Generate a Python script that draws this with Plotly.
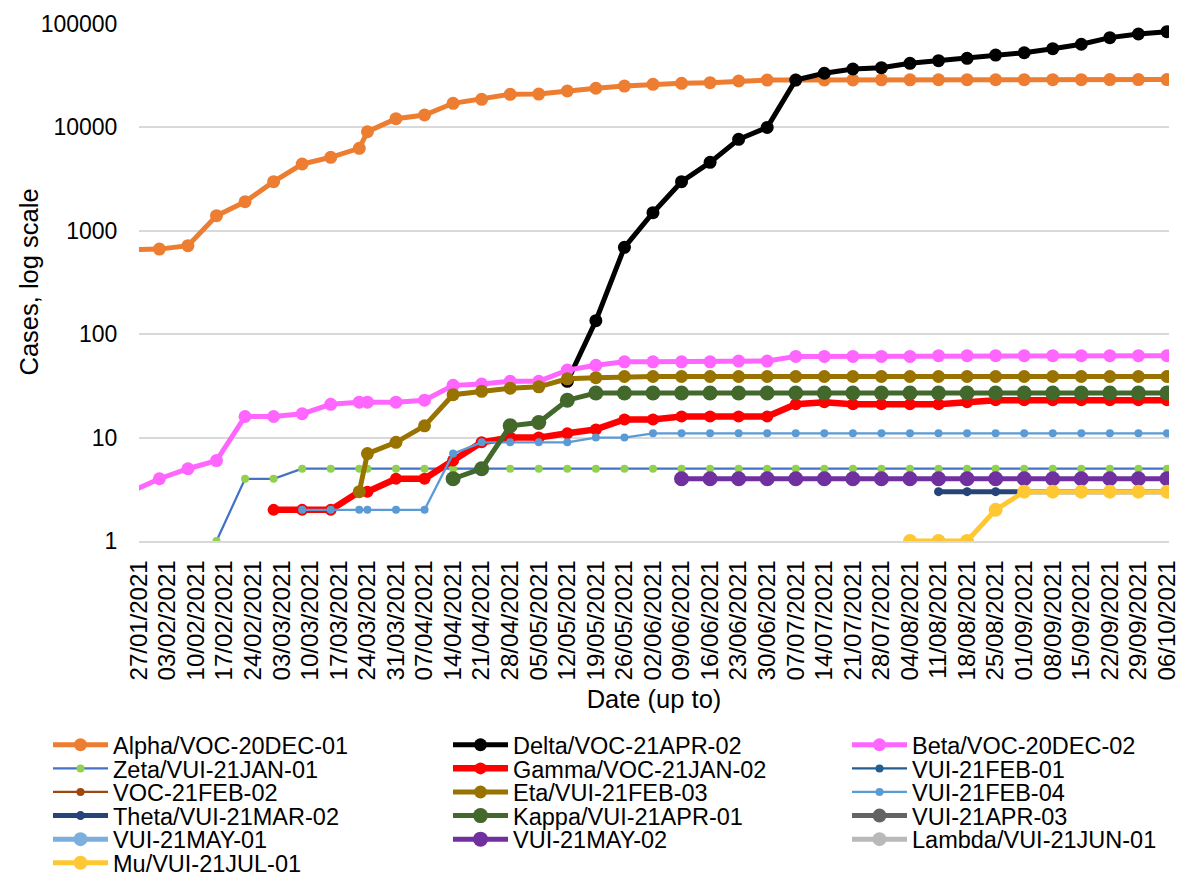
import plotly.graph_objects as go

N = None
# Report dates (Mondays until 22/03, then Wednesdays); first one lies just left of the axis
dates = ["2021-01-25", "2021-02-01", "2021-02-08", "2021-02-15", "2021-02-22", "2021-03-01",
         "2021-03-08", "2021-03-15", "2021-03-22", "2021-03-24", "2021-03-31", "2021-04-07",
         "2021-04-14", "2021-04-21", "2021-04-28", "2021-05-05", "2021-05-12", "2021-05-19",
         "2021-05-26", "2021-06-02", "2021-06-09", "2021-06-16", "2021-06-23", "2021-06-30",
         "2021-07-07", "2021-07-14", "2021-07-21", "2021-07-28", "2021-08-04", "2021-08-11",
         "2021-08-18", "2021-08-25", "2021-09-01", "2021-09-08", "2021-09-15", "2021-09-22",
         "2021-09-29", "2021-10-06"]

alpha = [655, 665, 718, 1400, 1910, 2985, 4425, 5140, 6280, 9080, 12150, 13180, 17100, 18700,
         20900, 21000, 22500, 23900, 25100, 26100, 26700, 27100, 28100, 28700, 28750, 28800,
         28800, 28850, 28850, 28900, 28900, 28900, 28950, 28950, 28950, 29000, 29000, 29000]
delta = [N] * 16 + [35, 135, 692, 1496, 2985, 4590, 7670, 10000, 28700, 33400, 36700, 37800,
                    41700, 44200, 46600, 50100, 52700, 57700, 63700, 73800, 80000, 84300]
beta = [3, 4, 5, 6, 16, 16, 17, 21, 22, 22, 22, 23, 32, 33, 35, 35, 45, 50, 54, 54, 54, 54, 55,
        55, 61, 61, 61, 61, 61, 62, 62, 62, 62, 62, 62, 62, 62, 62]
zeta = [N, N, N, 1, 4, 4] + [5] * 32
gamma = [N] * 5 + [2, 2, 2, 3, 3, 4, 4, 6, 9, 10, 10, 11, 12, 15, 15, 16, 16, 16, 16, 21, 22, 21,
                   21, 21, 21, 22, 23, 23, 23, 23, 23, 23, 23]
vui_21feb_01 = [N] * 38
voc_21feb_02 = [N] * 38
eta = [N] * 8 + [3, 7, 9, 13, 26, 28, 30, 31, 37, 38] + [39] * 20
vui_21feb_04 = [N] * 6 + [2, 2, 2, 2, 2, 2, 7, 9, 9, 9, 9, 10, 10] + [11] * 19
theta = [N] * 29 + [3] * 9
kappa = [N] * 12 + [4, 5, 13, 14, 23, 27] + [27] * 20
vui_21apr_03 = [N] * 38
vui_21may_01 = [N] * 38
vui_21may_02 = [N] * 20 + [4] * 18
lambda_ = [N] * 38
mu = [N] * 28 + [1, 1, 1, 2, 3, 3, 3, 3, 3, 3]

names = ["Alpha/VOC-20DEC-01", "Delta/VOC-21APR-02", "Beta/VOC-20DEC-02",
         "Zeta/VUI-21JAN-01", "Gamma/VOC-21JAN-02", "VUI-21FEB-01",
         "VOC-21FEB-02", "Eta/VUI-21FEB-03", "VUI-21FEB-04",
         "Theta/VUI-21MAR-02", "Kappa/VUI-21APR-01", "VUI-21APR-03",
         "VUI-21MAY-01", "VUI-21MAY-02", "Lambda/VUI-21JUN-01",
         "Mu/VUI-21JUL-01"]
values = [alpha, delta, beta, zeta, gamma, vui_21feb_01, voc_21feb_02, eta, vui_21feb_04,
          theta, kappa, vui_21apr_03, vui_21may_01, vui_21may_02, lambda_, mu]

# styles: line colour, marker colour, line width, marker size
styles = [
    ("#ED7D31", "#ED7D31", 5, 13),
    ("#000000", "#000000", 5, 13),
    ("#FF66FF", "#FF66FF", 5, 13),
    ("#4472C4", "#92D050", 2.25, 8),
    ("#FF0000", "#FF0000", 6.5, 12),
    ("#255E91", "#255E91", 2.25, 8),
    ("#9E480E", "#9E480E", 2.25, 8),
    ("#997300", "#997300", 5, 13),
    ("#5B9BD5", "#5B9BD5", 2.25, 8),
    ("#264478", "#264478", 5, 9),
    ("#43682B", "#43682B", 5, 15),
    ("#636363", "#636363", 5, 14),
    ("#7CAFDD", "#7CAFDD", 5, 14),
    ("#7030A0", "#7030A0", 5, 15),
    ("#B9B9B9", "#B9B9B9", 5, 14),
    ("#FFC832", "#FFC832", 5, 14),
]

FONT = "Liberation Sans, Arial, sans-serif"
W, H = 1181, 877
PL, PR, PT, PB = 139, 12, 24, 336

fig = go.Figure()
legend_layouts = {}
col_x = [48, 448, 847]
row_y0, row_dy = 745, 23.6
for i, (nm, vals, st) in enumerate(zip(names, values, styles)):
    lc, mc, lw, ms = st
    lname = "legend" if i == 0 else f"legend{i + 1}"
    fig.add_trace(go.Scatter(
        x=dates, y=vals, name=nm, mode="lines+markers",
        line=dict(color=lc, width=lw),
        marker=dict(color=mc, size=ms, line=dict(width=0)),
        legend=lname,
    ))
    col, row = i % 3, i // 3
    legend_layouts[lname] = dict(
        xref="container", yref="container",
        x=col_x[col] / W, y=1 - (row_y0 + row * row_dy) / H,
        xanchor="left", yanchor="middle",
        bgcolor="rgba(0,0,0,0)", borderwidth=0,
        font=dict(family=FONT, size=23.5, color="#000000"),
        itemwidth=55,
    )

plot_w = W - PL - PR
fig.update_layout(
    width=W, height=H,
    margin=dict(l=PL, r=PR, t=PT, b=PB, autoexpand=False),
    paper_bgcolor="white", plot_bgcolor="white",
    font=dict(family=FONT, size=23, color="#000000"),
    showlegend=True,
    annotations=[dict(
        text="Cases, log scale", textangle=-90, showarrow=False,
        xref="paper", yref="paper", x=(28 - PL) / plot_w, y=0.5,
        xanchor="center", yanchor="middle",
        font=dict(family=FONT, size=25.5, color="#000000"),
    )],
    **legend_layouts,
)

fig.update_xaxes(
    type="date",
    range=["2021-01-27", "2021-10-06 12:00"],
    tick0="2021-01-27", dtick=7 * 86400000,
    tickformat="%d/%m/%Y", tickangle=-90,
    tickfont=dict(family=FONT, size=24, color="#000000"),
    showgrid=False, showline=True, linecolor="#D9D9D9", linewidth=1.5,
    ticks="outside", ticklen=8, tickcolor="rgba(0,0,0,0)",
    title=dict(text="Date (up to)", font=dict(family=FONT, size=25.5, color="#000000"), standoff=11),
)
fig.update_yaxes(
    type="log", range=[0, 5],
    tickvals=[1, 10, 100, 1000, 10000, 100000],
    ticktext=["1", "10", "100", "1000", "10000", "100000"],
    tickfont=dict(family=FONT, size=23, color="#000000"),
    showgrid=True, gridcolor="#D9D9D9", gridwidth=1.5,
    zeroline=False, showline=False,
    ticks="outside", ticklen=16, tickcolor="rgba(0,0,0,0)",
)

fig.write_html("out.html")
